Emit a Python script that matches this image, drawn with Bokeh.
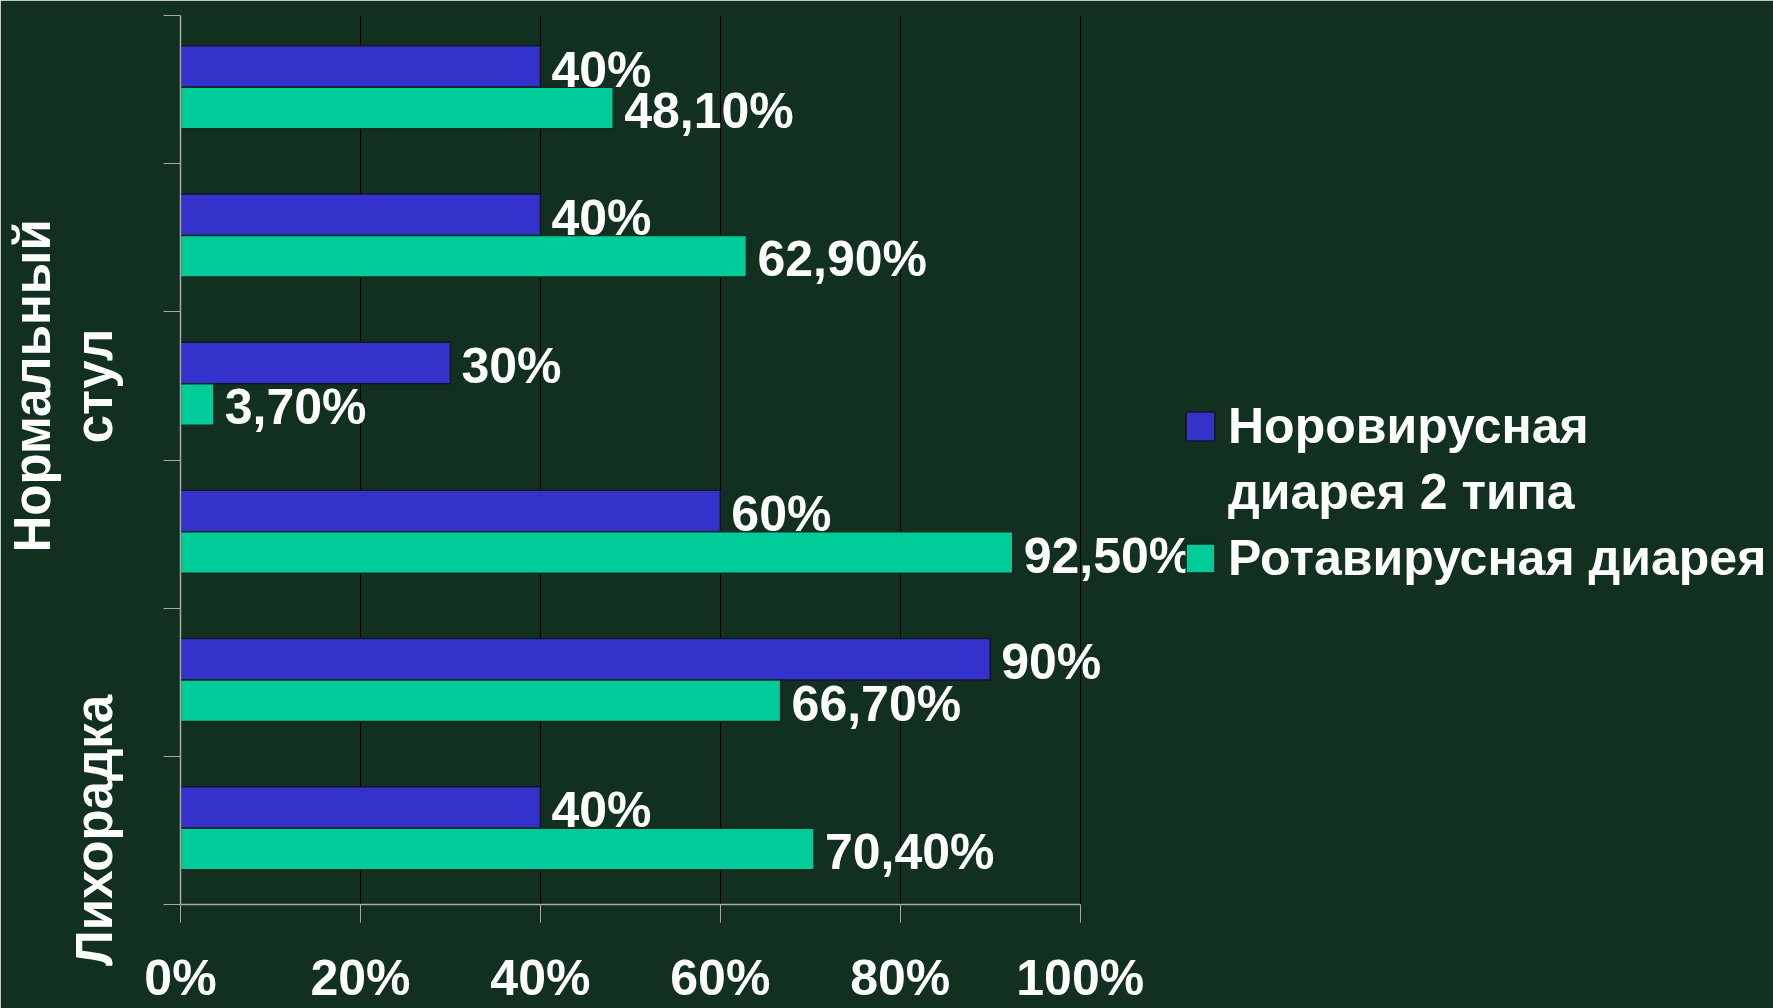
from bokeh.plotting import figure
from bokeh.models import ColumnDataSource, FixedTicker, Range1d, Legend, LegendItem, LabelSet
from bokeh.transform import dodge
from bokeh.embed import file_html
from bokeh.resources import INLINE
from bokeh.core.properties import value

# ---- data (bottom to top, as in the chart) ----
categories = ["Лихорадка", "", "", "Нормальный\nстул", "", ""]
noro_values = [40, 90, 60, 30, 40, 40]            # Норовирусная диарея 2 типа
rota_values = [70.4, 66.7, 92.5, 3.7, 62.9, 48.1]  # Ротавирусная диарея
noro_labels = ["40%", "90%", "60%", "30%", "40%", "40%"]
rota_labels = ["70,40%", "66,70%", "92,50%", "3,70%", "62,90%", "48,10%"]
series_name_lines = [["Норовирусная", "диарея 2 типа"], ["Ротавирусная диарея"]]
xticks = [0, 20, 40, 60, 80, 100]
xtick_labels = ["0%", "20%", "40%", "60%", "80%", "100%"]

pos = [i + 0.5 for i in range(len(categories))]
src = ColumnDataSource(dict(y=pos, noro=noro_values, rota=rota_values,
                            noro_lab=noro_labels, rota_lab=rota_labels))

BG = "#12301f"
BLUE = "#3333CC"
GREEN = "#00CC99"
FONT = "Liberation Sans"

# frame spans to the right edge so labels and legend are not clipped;
# the axis and grid are bounded to 0..100 %
p = figure(width=1773, height=1008, output_backend="svg", toolbar_location=None,
           x_range=Range1d(0, 176.5), y_range=Range1d(0, len(categories)),
           min_border_left=176, min_border_right=5, min_border_top=15,
           min_border_bottom=102)
p.background_fill_color = BG
p.border_fill_color = BG
p.outline_line_color = BG
p.outline_line_width = 3

OFF_N, OFF_R = 0.155, -0.125
r_noro = p.hbar(y=dodge("y", OFF_N, range=p.y_range), right="noro", left=0, height=0.28,
                source=src, fill_color=BLUE, line_color="#15152a", line_width=1.5)
r_rota = p.hbar(y=dodge("y", OFF_R, range=p.y_range), right="rota", left=0, height=0.28,
                source=src, fill_color=GREEN, line_color="#0f2a20", line_width=1.5)

for col, lab, off in (("noro", "noro_lab", OFF_N), ("rota", "rota_lab", OFF_R)):
    ls = LabelSet(x=col, y=dodge("y", off, range=p.y_range), text=lab, source=src,
                  x_offset=11, y_offset=-3, text_color="white", text_font=value(FONT),
                  text_font_style="bold", text_font_size="50px", text_baseline="middle",
                  text_align="left")
    p.add_layout(ls)

# x axis
xa = p.xaxis[0]
xa.bounds = (0, 100)
xa.ticker = FixedTicker(ticks=xticks)
xa.major_label_overrides = {t: l for t, l in zip(xticks, xtick_labels)}
xa.major_label_text_font = FONT
xa.major_label_text_font_style = "bold"
xa.major_label_text_font_size = "50px"
xa.major_label_text_color = "white"
xa.major_label_standoff = 27
xa.major_tick_out = 18
xa.major_tick_in = 0
xa.minor_tick_out = 0
xa.minor_tick_in = 0
xa.axis_line_color = "#a8a8a8"
xa.major_tick_line_color = "#a8a8a8"
xa.axis_line_width = 1.5

# y axis
ya = p.yaxis[0]
ya.ticker = FixedTicker(ticks=pos, minor_ticks=list(range(len(categories) + 1)))
ya.major_label_overrides = {t: l for t, l in zip(pos, categories)}
ya.major_label_orientation = "vertical"
ya.major_label_text_font = FONT
ya.major_label_text_font_style = "bold"
ya.major_label_text_font_size = "51px"
ya.major_label_text_line_height = 1.1
ya.major_label_text_color = "white"
ya.major_label_standoff = 40
ya.major_tick_out = 0
ya.major_tick_in = 0
ya.minor_tick_out = 17
ya.minor_tick_in = 0
ya.minor_tick_line_color = "#a8a8a8"
ya.axis_line_color = "#a8a8a8"
ya.axis_line_width = 1.5

p.xgrid.ticker = FixedTicker(ticks=xticks[1:])
p.xgrid.grid_line_color = "black"
p.xgrid.grid_line_width = 1
p.ygrid.grid_line_color = None

# legend: the marker sits beside the first line of each series name
legend = Legend(items=[LegendItem(label=series_name_lines[0][0], renderers=[r_noro]),
                       LegendItem(label=series_name_lines[0][1], renderers=[]),
                       LegendItem(label=series_name_lines[1][0], renderers=[r_rota])],
                location=(1002, 317))
legend.background_fill_alpha = 0
legend.border_line_color = None
legend.padding = 0
legend.margin = 0
legend.spacing = 8
legend.glyph_width = 36
legend.glyph_height = 36
legend.label_standoff = 10
legend.label_text_font = FONT
legend.label_text_font_style = "bold"
legend.label_text_font_size = "50px"
legend.label_text_color = "white"
p.add_layout(legend)

html = file_html(p, INLINE)
html = html.replace("<body>", '<body style="margin:0;background:%s">' % BG, 1)
open("out.html", "w").write(html)
